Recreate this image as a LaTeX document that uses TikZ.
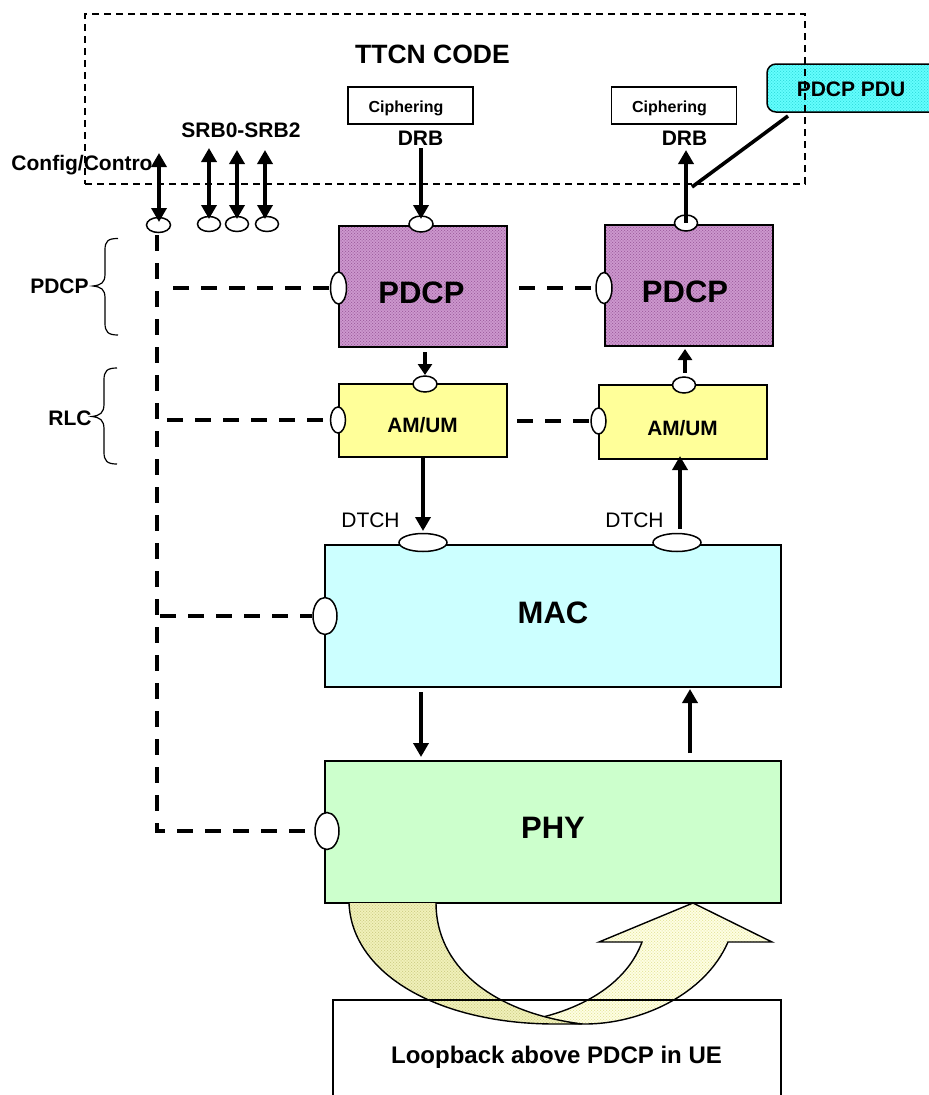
\documentclass[tikz,border=0pt]{standalone}
\usepackage{fontspec}
\setmainfont{Liberation Sans}
\usetikzlibrary{shapes.geometric,arrows.meta,patterns}
\pgfdeclarepatternformonly{dither}{\pgfqpoint{-0.1pt}{-0.1pt}}{\pgfqpoint{3.1pt}{3.1pt}}{\pgfqpoint{3pt}{3pt}}{
  \pgfpathrectangle{\pgfqpoint{0pt}{0pt}}{\pgfqpoint{1pt}{1pt}}
  \pgfpathrectangle{\pgfqpoint{1.5pt}{1.5pt}}{\pgfqpoint{1pt}{1pt}}
  \pgfusepath{fill}}
\definecolor{purplebase}{HTML}{CE9AD0}
\definecolor{purpledot}{HTML}{A060A0}
\definecolor{cyanbase}{HTML}{66FFFF}
\definecolor{cyandot}{HTML}{33DDDD}
\definecolor{ribbona}{HTML}{FFFFE6}
\definecolor{ribbonadot}{HTML}{E6E6A0}
\definecolor{ribbonb}{HTML}{F2F2BC}
\definecolor{ribbonbdot}{HTML}{CFCF88}
\definecolor{ambox}{HTML}{FFFF99}
\definecolor{macbox}{HTML}{CCFFFF}
\definecolor{phybox}{HTML}{CCFFCC}
\tikzset{
  x=1pt,y=-1pt,
  box/.style={rectangle,draw=black,line width=1.5pt,inner sep=0pt},
  port/.style={ellipse,draw=black,fill=white,line width=1.5pt,inner sep=0pt},
  small/.style={font=\fontsize{16}{18}\selectfont\bfseries,inner sep=0pt},
  label/.style={font=\fontsize{21}{24}\selectfont\bfseries,inner sep=0pt},
  plain/.style={font=\fontsize{21}{24}\selectfont,inner sep=0pt},
  big/.style={font=\fontsize{31}{34}\selectfont\bfseries,inner sep=0pt},
  arr/.style={line width=3.6pt,-{Triangle[length=14pt,width=15pt]}},
  dbl/.style={line width=3.6pt,{Triangle[length=14pt,width=15pt]}-{Triangle[length=14pt,width=15pt]}},
  sig/.style={line width=3.4pt,dash pattern=on 16pt off 12pt},
  brace/.style={line width=1.2pt,black},
}
\begin{document}
\begin{tikzpicture}
\useasboundingbox (0,0) rectangle (929,1095);
\clip (0,0) rectangle (929,1095);
% PDU box
\path[fill=cyanbase,rounded corners=9pt] (767,64) rectangle (945,112);
\path[pattern=dither,pattern color=cyandot,rounded corners=9pt] (767,64) rectangle (945,112);
\node[draw=black,line width=1.5pt,rounded corners=9pt,inner sep=0pt,minimum width=178pt,minimum height=48pt] (pdubox) at (856,88) {};
% TTCN box
\node[rectangle,draw=black,line width=1.2pt,dash pattern=on 7pt off 5pt,inner sep=0pt,minimum width=720pt,minimum height=170pt] (ttcn) at (445,99) {};
\node[label,font=\fontsize{26.5}{30}\selectfont\bfseries] (ttcnt) at (432.5,54.5) {TTCN CODE};
\node[label] (pdut) at (851,89) {PDCP PDU};
% ciphering
\node[box,minimum width=125pt,minimum height=37pt] (ciph1) at (410.5,105.5) {};
\node[small] (ciph1t) at (406,108) {Ciphering};
\node[box,minimum width=125pt,minimum height=37pt] (ciph2) at (674,105.5) {};
\node[small] (ciph2t) at (669.5,108) {Ciphering};
\node[label] (drb1) at (420.5,138) {DRB};
\node[label] (drb2) at (684.5,138) {DRB};
\node[label] (srb) at (241,130) {SRB0-SRB2};
\node[label] (cfg) at (82,165) {Config/Contro};
% layer boxes
\fill[purplebase] (339,226) rectangle (507,347);
\path[pattern=dither,pattern color=purpledot] (339,226) rectangle (507,347);
\node[box,minimum width=168pt,minimum height=121pt] (pdcp1) at (423,286.5) {};
\fill[purplebase] (605,225) rectangle (773,346);
\path[pattern=dither,pattern color=purpledot] (605,225) rectangle (773,346);
\node[box,minimum width=168pt,minimum height=121pt] (pdcp2) at (689,285.5) {};
\node[big] (pdcp1t) at (421.5,292.5) {PDCP};
\node[big] (pdcp2t) at (685,291.5) {PDCP};
\node[box,fill=ambox,minimum width=168pt,minimum height=73pt] (am1) at (423,420.5) {};
\node[box,fill=ambox,minimum width=168pt,minimum height=74pt] (am2) at (683,422) {};
\node[label,font=\fontsize{20.8}{24}\selectfont\bfseries] (am1t) at (422.5,425) {AM/UM};
\node[label,font=\fontsize{20.8}{24}\selectfont\bfseries] (am2t) at (682.5,428) {AM/UM};
\node[box,fill=macbox,minimum width=456pt,minimum height=142pt] (mac) at (553,616) {};
\node[box,fill=phybox,minimum width=456pt,minimum height=142pt] (phy) at (553,832) {};
\node[big] (mact) at (553,613) {MAC};
\node[big] (phyt) at (553,828) {PHY};
\node[plain] (dtch1) at (370.5,520) {DTCH};
\node[plain] (dtch2) at (634.5,520) {DTCH};
% ribbon: right band
\path[fill=ribbona] (543,1017) .. controls (590,1005) and (628,980) .. (642,942) -- (599,942) -- (693,903) -- (772,942) -- (728,942) .. controls (705,995) and (640,1024) .. (585,1024) .. controls (570,1024) and (555,1021) .. (543,1017) -- cycle;
\path[pattern=dither,pattern color=ribbonadot] (543,1017) .. controls (590,1005) and (628,980) .. (642,942) -- (599,942) -- (693,903) -- (772,942) -- (728,942) .. controls (705,995) and (640,1024) .. (585,1024) .. controls (570,1024) and (555,1021) .. (543,1017) -- cycle;
\draw[line width=1.4pt] (543,1017) .. controls (590,1005) and (628,980) .. (642,942) -- (599,942) -- (693,903) -- (772,942) -- (728,942) .. controls (705,995) and (640,1024) .. (585,1024) .. controls (570,1024) and (555,1021) .. (543,1017) -- cycle;
% ribbon: left band
\path[fill=ribbonb] (349,903) .. controls (352,975) and (440,1024) .. (555,1024) -- (582,1024) .. controls (490,1012) and (436,965) .. (436,903) -- cycle;
\path[pattern=dither,pattern color=ribbonbdot] (349,903) .. controls (352,975) and (440,1024) .. (555,1024) -- (582,1024) .. controls (490,1012) and (436,965) .. (436,903) -- cycle;
\draw[line width=1.4pt] (349,903) .. controls (352,975) and (440,1024) .. (555,1024) -- (582,1024) .. controls (490,1012) and (436,965) .. (436,903);
\node[rectangle,draw=black,line width=1.5pt,inner sep=0pt,minimum width=448pt,minimum height=120pt] (loop) at (557,1060) {};
\node[label,font=\fontsize{24}{28}\selectfont\bfseries] (loopt) at (556.5,1057) {Loopback above PDCP in UE};
% ports
\node[port,minimum width=24pt,minimum height=15pt] (pcfg) at (158.5,225) {};
\node[port,minimum width=23pt,minimum height=15pt] (ps1) at (209,224) {};
\node[port,minimum width=23pt,minimum height=15pt] (ps2) at (237,224) {};
\node[port,minimum width=23pt,minimum height=15pt] (ps3) at (267,224) {};
\node[port,minimum width=24pt,minimum height=16pt] (pd1) at (421,224) {};
\node[port,minimum width=23pt,minimum height=16pt] (pd2) at (686,223) {};
\node[port,minimum width=16pt,minimum height=32pt] (sp1) at (338.5,288) {};
\node[port,minimum width=16pt,minimum height=31pt] (sp2) at (604,288) {};
\node[port,minimum width=24pt,minimum height=16pt] (pa1) at (425,384) {};
\node[port,minimum width=23pt,minimum height=16pt] (pa2) at (684,385) {};
\node[port,minimum width=15pt,minimum height=26pt] (sa1) at (338,420) {};
\node[port,minimum width=15pt,minimum height=26pt] (sa2) at (598.5,421) {};
\node[port,minimum width=48pt,minimum height=18pt] (pm1) at (423,542.5) {};
\node[port,minimum width=48pt,minimum height=18pt] (pm2) at (677,542.5) {};
\node[port,minimum width=24pt,minimum height=37pt] (sm) at (325,616) {};
\node[port,minimum width=24pt,minimum height=37pt] (sph) at (327,831) {};
% free ends
\coordinate (ecfg) at (159,153);
\coordinate (es1) at (209,148);
\coordinate (es2) at (237,150);
\coordinate (es3) at (265,150);
\coordinate (ed1) at (421,148);
\coordinate (ed2) at (686,150);
\coordinate (hp1) at (173,288);
\coordinate (ha1) at (167,420);
\coordinate (hm) at (160,616);
\coordinate (vtop) at (157,235);
\coordinate (vbot) at (157,831);
\coordinate (ppdu) at (788,116);
\coordinate (jd) at (692,187);
\coordinate (d1) at (421,692);
\coordinate (d2) at (421,757);
\coordinate (u1) at (690,753);
\coordinate (u2) at (690,689);
\coordinate (h2a) at (519,288);
\coordinate (h2b) at (517,421);
% arrows
\draw[dbl] (ecfg) -- (159,222);
\draw[dbl] (es1) -- (209,219);
\draw[dbl] (es2) -- (237,219);
\draw[dbl] (es3) -- (265,219);
\draw[arr] (ed1) -- (421,219);
\draw[line width=3.6pt,{Triangle[length=14pt,width=15pt]}-] (ed2) -- (pd2.center);
\draw[line width=3.6pt] (ppdu) -- (jd);
\draw[line width=3.6pt,-{Triangle[length=11pt,width=14pt]}] (425,352) -- (425,375);
\draw[line width=3.6pt,{Triangle[length=11pt,width=14pt]}-] (685,349) -- (685,373);
\draw[arr] (423,458) -- (423,531);
\draw[line width=3.6pt,{Triangle[length=14pt,width=15pt]}-] (680,456) -- (680,529);
\draw[arr] (d1) -- (d2);
\draw[arr] (u1) -- (u2);
% dashed
\draw[sig] (vtop) -- (vbot) -- (sph.west);
\draw[sig] (hp1) -- (sp1.west);
\draw[sig] (h2a) -- (sp2.west);
\draw[sig] (ha1) -- (sa1.west);
\draw[sig] (h2b) -- (sa2.west);
\draw[sig] (hm) -- (sm.west);
% braces
\draw[brace] (118,238.5) .. controls (108,238.5) and (105,241) .. (105,250) -- (105,274) .. controls (105,283) and (101,285) .. (93,286) .. controls (101,287) and (105,289) .. (105,298) -- (105,323) .. controls (105,332) and (108,335) .. (118,335);
\draw[brace] (117,368) .. controls (107,368) and (104,371) .. (104,380) -- (104,404) .. controls (104,413) and (100,415.5) .. (92,416.5) .. controls (100,417.5) and (104,420) .. (104,429) -- (104,452) .. controls (104,461) and (107,464) .. (117,464);
\node[label] (lp) at (59.5,286) {PDCP};
\node[label] (lr) at (70,418) {RLC};
\end{tikzpicture}
\end{document}
